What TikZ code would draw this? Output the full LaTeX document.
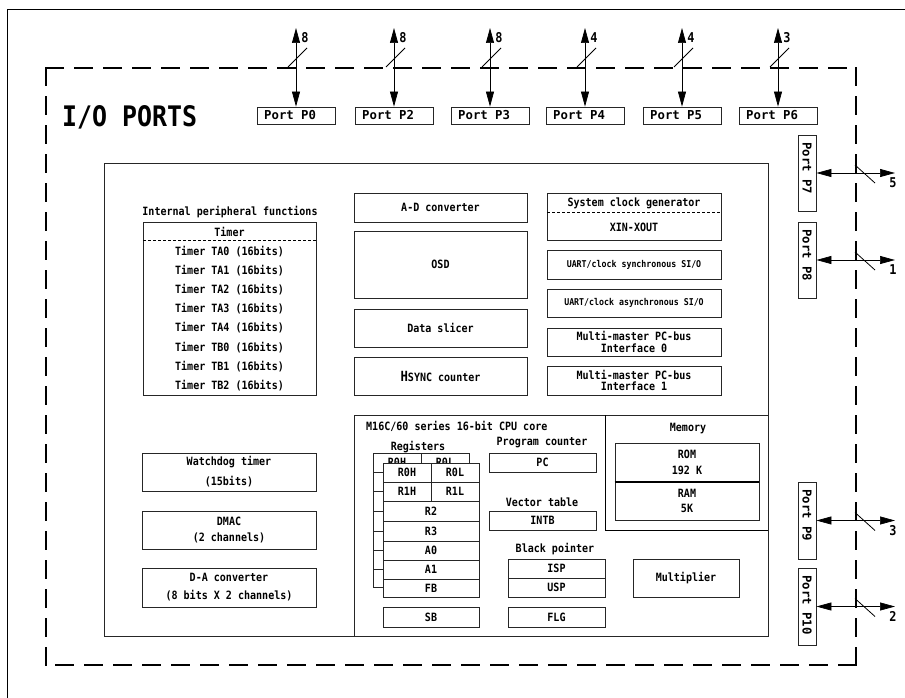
\documentclass[tikz,border=0pt]{standalone}
\usepackage{fontspec}
\usetikzlibrary{arrows.meta}
\newfontfamily\monoN{DejaVu Sans Mono}[FakeStretch=0.88]
\newfontfamily\monoW{DejaVu Sans Mono}
\newcommand\fbase{\monoN\bfseries\fontsize{11.4}{13}\selectfont}
\newcommand\fsmall{\monoN\bfseries\fontsize{9.4}{11}\selectfont}
\newcommand\fport{\monoW\bfseries\fontsize{12.3}{14}\selectfont}
\newcommand\fbig{\monoN\bfseries\fontsize{28.3}{30}\selectfont}
\newcommand\fnum{\monoN\bfseries\fontsize{13.5}{15}\selectfont}
\newcommand\mkbox[7][]{\node[box,minimum width={((#5)-(#3))*1pt},minimum height={((#6)-(#4))*1pt},#1] (#2) at ({((#3)+(#5))/2},{((#4)+(#6))/2}) {#7};}
\newcommand\regstack[1]{%
 \mkbox{#1r0h}{383}{463}{431}{482}{R0H}
 \mkbox{#1r0l}{431}{463}{479}{482}{R0L}
 \mkbox{#1r1h}{383}{482}{431}{501}{R1H}
 \mkbox{#1r1l}{431}{482}{479}{501}{R1L}
 \mkbox{#1r2}{383}{501}{479}{521}{R2}
 \mkbox{#1r3}{383}{521}{479}{541}{R3}
 \mkbox{#1a0}{383}{541}{479}{560}{A0}
 \mkbox{#1a1}{383}{560}{479}{579}{A1}
 \mkbox{#1fb}{383}{579}{479}{597}{FB}}
\begin{document}
\begin{tikzpicture}[x=1pt,y=-1pt,
 box/.style={draw=black!85,line width=0.8pt,fill=white,inner sep=0pt,font=\fbase,align=center},
 txt/.style={inner sep=0pt,font=\fbase,align=center},
 bidir/.style={line width=0.7pt,arrows={Triangle[length=15pt,width=8pt]-Triangle[length=15pt,width=8pt]}},
 bus/.style={line width=0.8pt},
 smalldash/.style={line width=0.6pt,dash pattern=on 3pt off 2pt},
 frame/.style={line width=2.8pt,dash pattern=on 17pt off 12pt,line cap=rect}]
\useasboundingbox (0,0) rectangle (905,698);
\fill[white] (0,0) rectangle (905,698);
\draw[line width=0.8pt] (7,698) -- (7,9) -- (905,9);
% dashed I/O frame
\draw[frame] (46,68) -- (856,68);
\draw[frame] (856,68) -- (856,665);
\draw[frame] (856,665) -- (46,665);
\draw[frame] (46,665) -- (46,68);
\node[font=\fbig,anchor=west,inner sep=0pt] (title) at (62,117.5) {I/O PORTS};
% top ports
\foreach \n/\x/\lab in {0/296/8,2/394/8,3/490/8,4/585/4,5/682/4,6/778/3}{
 \mkbox{p\n}{\x-39}{107}{\x+39}{124}{}
 \node[font=\fport,anchor=west,inner sep=0pt] (pl\n) at ({\x-32},115.5) {Port P\n};
 \coordinate (pe\n) at (\x,28);
 \draw[bidir] (pe\n) -- (p\n.north);
 \draw[bus] ({\x-8},67) -- ({\x+11},48);
 \node[font=\fnum,inner sep=0pt] (pn\n) at ({\x+9},38) {\lab};
}
% right ports
\foreach \n/\ya/\yb/\lab in {7/135/211/5,8/222/298/1,9/482/559/3,10/568/645/2}{
 \mkbox{p\n}{798}{\ya}{816}{\yb}{}
 \node[font=\fport,rotate=-90,anchor=west,inner sep=0pt] (pl\n) at (807,{\ya+7}) {Port P\n};
 \coordinate (pe\n) at (895,{(\ya+\yb)/2});
 \draw[bidir] (pe\n) -- (p\n.east);
 \draw[bus] (855,{(\ya+\yb)/2-8}) -- (875,{(\ya+\yb)/2+10});
 \node[font=\fnum,inner sep=0pt] (pn\n) at (893,{(\ya+\yb)/2+10}) {\lab};
}
% internal peripheral area
\mkbox[line width=0.9pt]{periph}{104}{163}{768}{636}{}
\node[txt] (ipf) at (230,212) {Internal peripheral functions};
\mkbox{timer}{143}{222}{316}{395}{}
\node[txt] (timerh) at (229.5,232) {Timer};
\draw[smalldash] (143,240) -- (316,240);
\foreach \t [count=\i from 0] in {TA0,TA1,TA2,TA3,TA4,TB0,TB1,TB2}
 \node[txt] (tm\i) at (229.5,{251.7+19.1*\i}) {Timer \t\ (16bits)};
\mkbox{wdt}{142}{453}{316}{491}{Watchdog timer\\[7pt](15bits)}
\mkbox{dmac}{142}{511}{316}{549}{DMAC\\[3pt](2 channels)}
\mkbox{dac}{142}{568}{316}{607}{D-A converter\\[5pt](8 bits X 2 channels)}
% centre column
\mkbox{adc}{354}{193}{527}{222}{A-D converter}
\mkbox{osd}{354}{231}{527}{298}{OSD}
\mkbox{slicer}{354}{309}{527}{347}{Data slicer}
\mkbox{hsync}{354}{357}{527}{395}{{\fontsize{14}{14}\selectfont H}SYNC counter}
% right column
\mkbox{clk}{547}{193}{721}{240}{}
\node[txt] (clkh) at (634,203) {System clock generator};
\draw[smalldash] (547,212) -- (721,212);
\node[txt] (xin) at (634,227) {XIN-XOUT};
\mkbox[font=\fsmall]{usync}{547}{250}{721}{279}{UART/clock synchronous SI/O}
\mkbox[font=\fsmall]{uasync}{547}{289}{721}{317}{UART/clock asynchronous SI/O}
\mkbox{iic0}{547}{328}{721}{356}{Multi-master PC-bus\\[-1.5pt]Interface 0}
\mkbox{iic1}{547}{366}{721}{395}{Multi-master PC-bus\\[-1.5pt]Interface 1}
% CPU core
\mkbox{cpu}{354}{415}{768}{636}{}
\node[txt,anchor=west] (cpuh) at (366,426) {M16C/60 series 16-bit CPU core};
\draw[line width=0.8pt] (605,415) -- (605,530) -- (768,530);
\node[txt] (memh) at (688,429) {Memory};
\mkbox{rom}{615}{443}{759}{482}{ROM\\[3pt]192 K}
\mkbox{ram}{615}{482}{759}{520}{RAM\\[2pt]5K}
\draw[line width=2pt] (rom.south west) -- (rom.south east);
\node[txt] (regh) at (418,447) {Registers};
\begin{scope}[shift={(-10,-10)}]\regstack{b}\end{scope}
\regstack{f}
\node[txt] (pch) at (542,443) {Program counter};
\mkbox{pc}{489}{453}{596}{472}{PC}
\node[txt] (vth) at (542,502) {Vector table};
\mkbox{intb}{489}{511}{596}{530}{INTB}
\node[txt] (bph) at (555,549) {Black pointer};
\mkbox{isp}{508}{559}{605}{578}{ISP}
\mkbox{usp}{508}{578}{605}{597}{USP}
\mkbox{flg}{508}{607}{605}{627}{FLG}
\mkbox{sb}{383}{607}{479}{627}{SB}
\mkbox{mul}{633}{559}{739}{597}{Multiplier}
\end{tikzpicture}
\end{document}
